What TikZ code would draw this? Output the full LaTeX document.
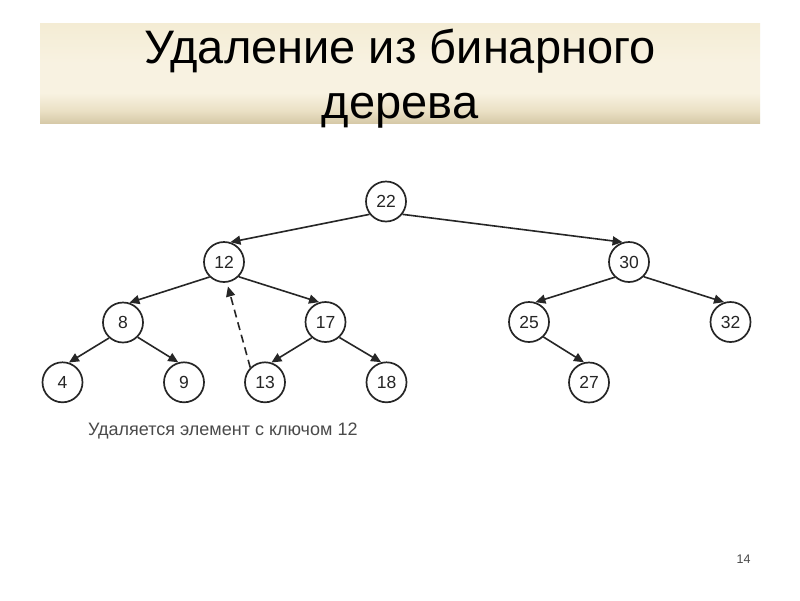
\documentclass[tikz,border=0pt]{standalone}
\usepackage{fontspec}
\setmainfont{Liberation Sans}
\usetikzlibrary{arrows.meta}
\definecolor{bandtop}{HTML}{F4ECD4}
\definecolor{bandmid}{HTML}{F8F2E1}
\definecolor{bandlow}{HTML}{EAE0C4}
\definecolor{bandbot}{HTML}{D6C9A8}
\definecolor{linecol}{HTML}{262626}
\definecolor{capcol}{HTML}{4A4A4A}
% path box maps to 25bp..75bp of the shading
\pgfdeclareverticalshading{bandshade}{100bp}{color(0bp)=(bandbot); color(25bp)=(bandbot); color(31bp)=(bandlow); color(40bp)=(bandmid); color(55bp)=(bandmid); color(75bp)=(bandtop); color(100bp)=(bandtop)}
\tikzset{
  keynode/.style={circle, draw=linecol, line width=1.7pt, minimum size=40pt, inner sep=0pt, text=black!85, font=\fontsize{17.5}{20}\selectfont},
  edge/.style={draw=linecol, line width=1.6pt, -{Triangle[length=10pt,width=9pt]}},
  relink/.style={edge, dash pattern=on 8pt off 5pt, shorten >=4pt}
}
\begin{document}
\begin{tikzpicture}[x=1pt,y=-1pt]
\useasboundingbox (0,0) rectangle (800,600);
\fill[white] (0,0) rectangle (800,600);
% title band
\shade[shading=bandshade] (40,23) rectangle (760,123);
\node[anchor=base, inner sep=0pt, font=\fontsize{47}{55}\selectfont] (t1) at (400,63.3) {Удаление из бинарного};
\node[anchor=base, inner sep=0pt, font=\fontsize{47}{55}\selectfont] (t2) at (400,118.3) {дерева};
% nodes
\node[keynode] (n22) at (386,201.5) {22};
\node[keynode] (n12) at (224,262) {12};
\node[keynode] (n30) at (629,262) {30};
\node[keynode] (n8) at (123,322.5) {8};
\node[keynode] (n17) at (325.5,322) {17};
\node[keynode] (n25) at (529,322) {25};
\node[keynode] (n32) at (730.5,322) {32};
\node[keynode] (n4) at (62.5,382.3) {4};
\node[keynode] (n9) at (184,382.3) {9};
\node[keynode] (n13) at (265,382.3) {13};
\node[keynode] (n18) at (386.5,382.3) {18};
\node[keynode] (n27) at (589,382.5) {27};
% edges
\draw[edge] (n22.218) -- (n12.72);
\draw[edge] (n22.322) -- (n30.108);
\draw[edge] (n12.226) -- (n8.72);
\draw[edge] (n12.315) -- (n17.108);
\draw[edge] (n30.227) -- (n25.72);
\draw[edge] (n30.315) -- (n32.108);
\draw[edge] (n8.228) -- (n4.72);
\draw[edge] (n8.315) -- (n9.106);
\draw[edge] (n17.229) -- (n13.72);
\draw[edge] (n17.312) -- (n18.105);
\draw[edge] (n25.314) -- (n27.104);
\draw[relink] (n13.135) -- (n12.-82);
% caption
\node[anchor=base west, inner sep=0pt, text=capcol, font=\fontsize{18}{21}\selectfont] (cap) at (88,435) {Удаляется элемент с ключом 12};
\node[anchor=base, inner sep=0pt, text=capcol, font=\fontsize{12.5}{15}\selectfont] (pg) at (743.5,563) {14};
\end{tikzpicture}
\end{document}
